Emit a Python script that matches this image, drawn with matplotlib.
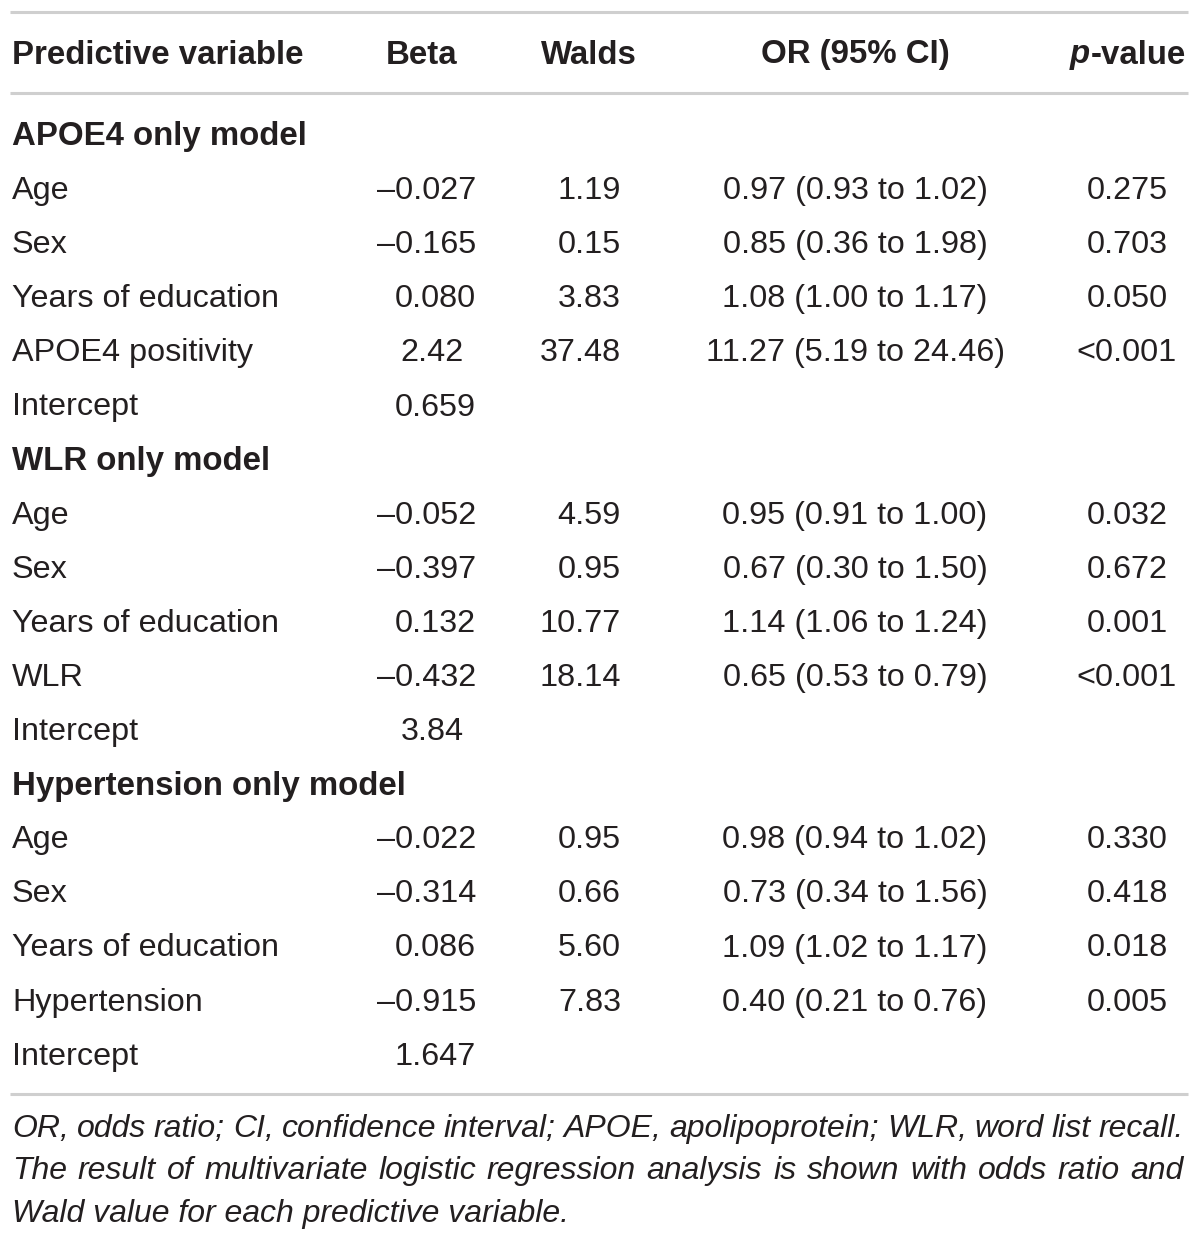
import matplotlib
matplotlib.use("Agg")
import matplotlib.pyplot as plt

# table content
headers = ["Predictive variable", "Beta", "Walds", "OR (95% CI)", "-value"]
row_labels = ["APOE4 only model", "Age", "Sex", "Years of education", "APOE4 positivity", "Intercept",
              "WLR only model", "Age", "Sex", "Years of education", "WLR", "Intercept",
              "Hypertension only model", "Age", "Sex", "Years of education", "Hypertension", "Intercept"]
section_rows = [0, 6, 12]
beta = ["", "\u20130.027", "\u20130.165", "0.080", "2.42", "0.659",
        "", "\u20130.052", "\u20130.397", "0.132", "\u20130.432", "3.84",
        "", "\u20130.022", "\u20130.314", "0.086", "\u20130.915", "1.647"]
walds = ["", "1.19", "0.15", "3.83", "37.48", "",
         "", "4.59", "0.95", "10.77", "18.14", "",
         "", "0.95", "0.66", "5.60", "7.83", ""]
odds = ["", "0.97 (0.93 to 1.02)", "0.85 (0.36 to 1.98)", "1.08 (1.00 to 1.17)", "11.27 (5.19 to 24.46)", "",
        "", "0.95 (0.91 to 1.00)", "0.67 (0.30 to 1.50)", "1.14 (1.06 to 1.24)", "0.65 (0.53 to 0.79)", "",
        "", "0.98 (0.94 to 1.02)", "0.73 (0.34 to 1.56)", "1.09 (1.02 to 1.17)", "0.40 (0.21 to 0.76)", ""]
pvals = ["", "0.275", "0.703", "0.050", "<0.001", "",
         "", "0.032", "0.672", "0.001", "<0.001", "",
         "", "0.330", "0.418", "0.018", "0.005", ""]
footnote = ["OR, odds ratio; CI, confidence interval; APOE, apolipoprotein; WLR, word list recall.",
            "The result of multivariate logistic regression analysis is shown with odds ratio and",
            "Wald value for each predictive variable."]

W, H = 1200, 1242
fig = plt.figure(figsize=(W / 100, H / 100), dpi=100)
ax = fig.add_axes([0, 0, 1, 1])
ax.set_xlim(0, W)
ax.set_ylim(H, 0)
ax.axis("off")

font = "Liberation Sans"
fs = 23.3
bfs = 23.8
col = "#231f20"
rule = "#cfcfcf"

for y in (12, 93, 1094):
    ax.plot([10, 1188], [y, y], color=rule, lw=2.2, solid_capstyle="butt")

# header
hy = 55
ax.text(12, hy, headers[0], ha="left", va="center", fontsize=bfs, fontweight="bold", family=font, color=col)
ax.text(422, hy, headers[1], ha="center", va="center", fontsize=bfs, fontweight="bold", family=font, color=col)
ax.text(589, hy, headers[2], ha="center", va="center", fontsize=bfs, fontweight="bold", family=font, color=col)
ax.text(855, hy, headers[3], ha="center", va="center", fontsize=bfs, fontweight="bold", family=font, color=col)
tv = ax.text(1186, hy, headers[4], ha="right", va="center", fontsize=bfs, fontweight="bold", family=font, color=col)
fig.canvas.draw()
r = fig.canvas.get_renderer()
inv = ax.transData.inverted()
bb = tv.get_window_extent(r)
left = inv.transform((bb.x0, bb.y0))[0]
ax.text(left - 1, hy, "p", ha="right", va="center", fontsize=bfs, fontweight="bold", style="italic",
        family=font, color=col)

y0, dy = 137, 54.1
digit = 12.5
for i, lab in enumerate(row_labels):
    y = y0 + i * dy
    if i in section_rows:
        ax.text(12, y, lab, ha="left", va="center", fontsize=bfs, fontweight="bold", family=font, color=col)
        continue
    ax.text(12, y, lab, ha="left", va="center", fontsize=fs, family=font, color=col)
    b = beta[i]
    nd = len(b.split(".")[1]) if "." in b else 0
    ax.text(476 - (3 - nd) * digit, y, b, ha="right", va="center", fontsize=fs, family=font, color=col)
    ax.text(621, y, walds[i], ha="right", va="center", fontsize=fs, family=font, color=col)
    ax.text(855, y, odds[i], ha="center", va="center", fontsize=fs, family=font, color=col)
    ax.text(1127, y, pvals[i], ha="center", va="center", fontsize=fs, family=font, color=col)

# footnote, justified except the last line
ffs = 23.0
fy = [1129, 1171, 1214]
x_left, x_right = 12, 1184
for k, line in enumerate(footnote):
    if k == len(footnote) - 1:
        ax.text(x_left, fy[k], line, ha="left", va="center", fontsize=ffs, style="italic",
                family=font, color=col)
        continue
    words = line.split(" ")
    objs = [ax.text(0, fy[k], w, ha="left", va="center", fontsize=ffs, style="italic",
                    family=font, color=col) for w in words]
    fig.canvas.draw()
    widths = []
    for t in objs:
        e = t.get_window_extent(r)
        widths.append(inv.transform((e.x1, 0))[0] - inv.transform((e.x0, 0))[0])
    gap = (x_right - x_left - sum(widths)) / (len(words) - 1)
    x = x_left
    for t, w in zip(objs, widths):
        t.set_x(x)
        x += w + gap

fig.savefig("out.png", dpi=100, facecolor="white")
